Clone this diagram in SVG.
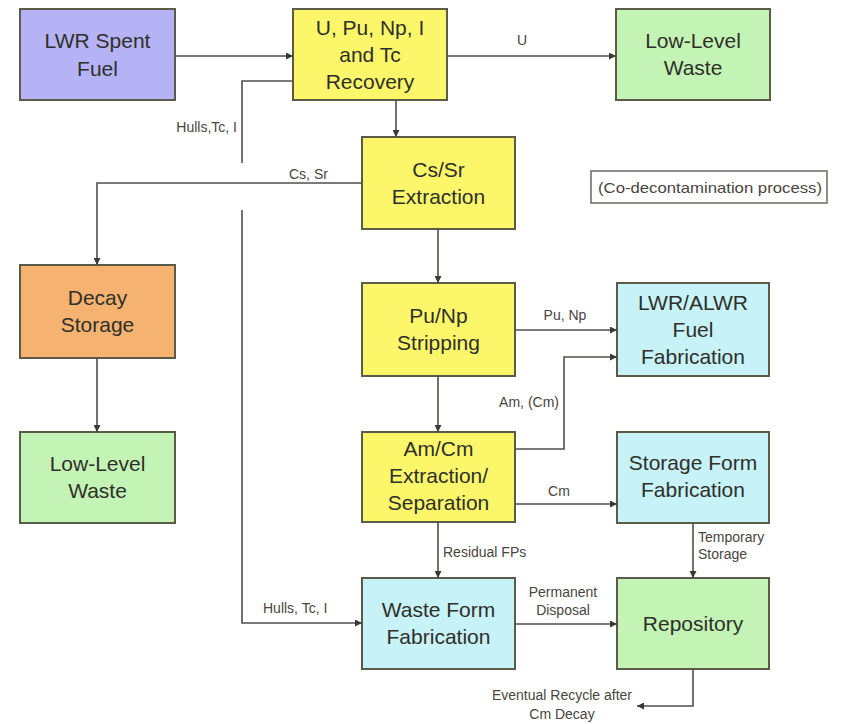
<svg xmlns="http://www.w3.org/2000/svg" width="846" height="724" viewBox="0 0 846 724">
  <style>
    .box { stroke: #5c5b4a; stroke-width: 2; }
    .purple { fill: #b5b2f5; }
    .yellow { fill: #fcf76a; }
    .green { fill: #c4f4b5; }
    .orange { fill: #f5b270; }
    .cyan { fill: #c6f2f8; }
    .note { fill: #ffffff; stroke: #6a6a60; stroke-width: 1.5; }
    .t { font-family: "Liberation Sans", Arial, sans-serif; font-size: 21px; fill: #2f2f2a; text-anchor: middle; }
    .lbl { font-family: "Liberation Sans", Arial, sans-serif; font-size: 14px; fill: #4a4540; }
    .mid { text-anchor: middle; }
    .end { text-anchor: end; }
    .wire { fill: none; stroke: #4f4f4a; stroke-width: 1.6; }
  </style>
  <defs>
    <marker id="arr" viewBox="0 0 10 10" refX="10" refY="5" markerWidth="7" markerHeight="7" markerUnits="userSpaceOnUse" orient="auto">
      <path d="M0,0 L10,5 L0,10 z" fill="#3a3a36"/>
    </marker>
  </defs>
  <rect width="846" height="724" fill="#ffffff"/>

  <!-- process nodes -->
  <g id="spent-fuel">
    <rect class="box purple" x="20" y="9" width="155" height="91"/>
    <text class="t" x="97.5" y="48">LWR Spent</text>
    <text class="t" x="97.5" y="76">Fuel</text>
  </g>
  <g id="recovery">
    <rect class="box yellow" x="293" y="9" width="154" height="91"/>
    <text class="t" x="370" y="35">U, Pu, Np, I</text>
    <text class="t" x="370" y="62">and Tc</text>
    <text class="t" x="370" y="89">Recovery</text>
  </g>
  <g id="llw-top">
    <rect class="box green" x="616" y="9" width="154" height="91"/>
    <text class="t" x="693" y="48">Low-Level</text>
    <text class="t" x="693" y="75">Waste</text>
  </g>
  <g id="note">
    <rect class="note" x="591" y="171" width="236" height="32"/>
    <text class="lbl" x="598" y="193" style="font-size:15px" textLength="224" lengthAdjust="spacingAndGlyphs">(Co-decontamination process)</text>
  </g>
  <g id="cs-sr">
    <rect class="box yellow" x="362" y="137" width="153" height="92"/>
    <text class="t" x="438.5" y="177">Cs/Sr</text>
    <text class="t" x="438.5" y="204">Extraction</text>
  </g>
  <g id="decay">
    <rect class="box orange" x="20" y="265" width="155" height="93"/>
    <text class="t" x="97.5" y="305">Decay</text>
    <text class="t" x="97.5" y="332">Storage</text>
  </g>
  <g id="llw-left">
    <rect class="box green" x="20" y="432" width="155" height="91"/>
    <text class="t" x="97.5" y="471">Low-Level</text>
    <text class="t" x="97.5" y="498">Waste</text>
  </g>
  <g id="pu-np">
    <rect class="box yellow" x="362" y="283" width="153" height="93"/>
    <text class="t" x="438.5" y="323">Pu/Np</text>
    <text class="t" x="438.5" y="350">Stripping</text>
  </g>
  <g id="fuel-fab">
    <rect class="box cyan" x="617" y="283" width="152" height="93"/>
    <text class="t" x="693" y="310">LWR/ALWR</text>
    <text class="t" x="693" y="337">Fuel</text>
    <text class="t" x="693" y="364">Fabrication</text>
  </g>
  <g id="am-cm">
    <rect class="box yellow" x="362" y="432" width="153" height="90"/>
    <text class="t" x="438.5" y="456">Am/Cm</text>
    <text class="t" x="438.5" y="483">Extraction/</text>
    <text class="t" x="438.5" y="510">Separation</text>
  </g>
  <g id="storage-fab">
    <rect class="box cyan" x="617" y="432" width="152" height="91"/>
    <text class="t" x="693" y="470">Storage Form</text>
    <text class="t" x="693" y="497">Fabrication</text>
  </g>
  <g id="waste-fab">
    <rect class="box cyan" x="362" y="578" width="153" height="91"/>
    <text class="t" x="438.5" y="617">Waste Form</text>
    <text class="t" x="438.5" y="644">Fabrication</text>
  </g>
  <g id="repository">
    <rect class="box green" x="617" y="578" width="152" height="91"/>
    <text class="t" x="693" y="631">Repository</text>
  </g>

  <!-- connectors and their labels -->
  <g id="connectors">
    <path class="wire" d="M175,56 H293" marker-end="url(#arr)"/>
    <path class="wire" d="M447,56 H616" marker-end="url(#arr)"/>
    <text class="lbl mid" x="522" y="45">U</text>
    <path class="wire" d="M396,100 V137" marker-end="url(#arr)"/>
    <path class="wire" d="M293,81 H242 V163"/>
    <text class="lbl end" x="237" y="132">Hulls,Tc, I</text>
    <path class="wire" d="M242,210 V623 H362" marker-end="url(#arr)"/>
    <text class="lbl" x="263" y="613">Hulls, Tc, I</text>
    <path class="wire" d="M362,183 H97 V265" marker-end="url(#arr)"/>
    <text class="lbl" x="289" y="179">Cs, Sr</text>
    <path class="wire" d="M97,358 V432" marker-end="url(#arr)"/>
    <path class="wire" d="M438,229 V283" marker-end="url(#arr)"/>
    <path class="wire" d="M515,330 H617" marker-end="url(#arr)"/>
    <text class="lbl mid" x="565" y="320">Pu, Np</text>
    <path class="wire" d="M515,449 H564 V357 H617" marker-end="url(#arr)"/>
    <text class="lbl end" x="559" y="407">Am, (Cm)</text>
    <path class="wire" d="M438,376 V432" marker-end="url(#arr)"/>
    <path class="wire" d="M515,504 H617" marker-end="url(#arr)"/>
    <text class="lbl mid" x="559" y="496">Cm</text>
    <path class="wire" d="M438,522 V578" marker-end="url(#arr)"/>
    <text class="lbl" x="443" y="557">Residual FPs</text>
    <path class="wire" d="M693,523 V578" marker-end="url(#arr)"/>
    <text class="lbl" x="698" y="542">Temporary</text>
    <text class="lbl" x="698" y="559">Storage</text>
    <path class="wire" d="M515,624 H617" marker-end="url(#arr)"/>
    <text class="lbl mid" x="563" y="597">Permanent</text>
    <text class="lbl mid" x="563" y="615">Disposal</text>
    <path class="wire" d="M693,669 V706 H637" marker-end="url(#arr)"/>
    <text class="lbl mid" x="562" y="700">Eventual Recycle after</text>
    <text class="lbl mid" x="562" y="719">Cm Decay</text>
  </g>
</svg>
